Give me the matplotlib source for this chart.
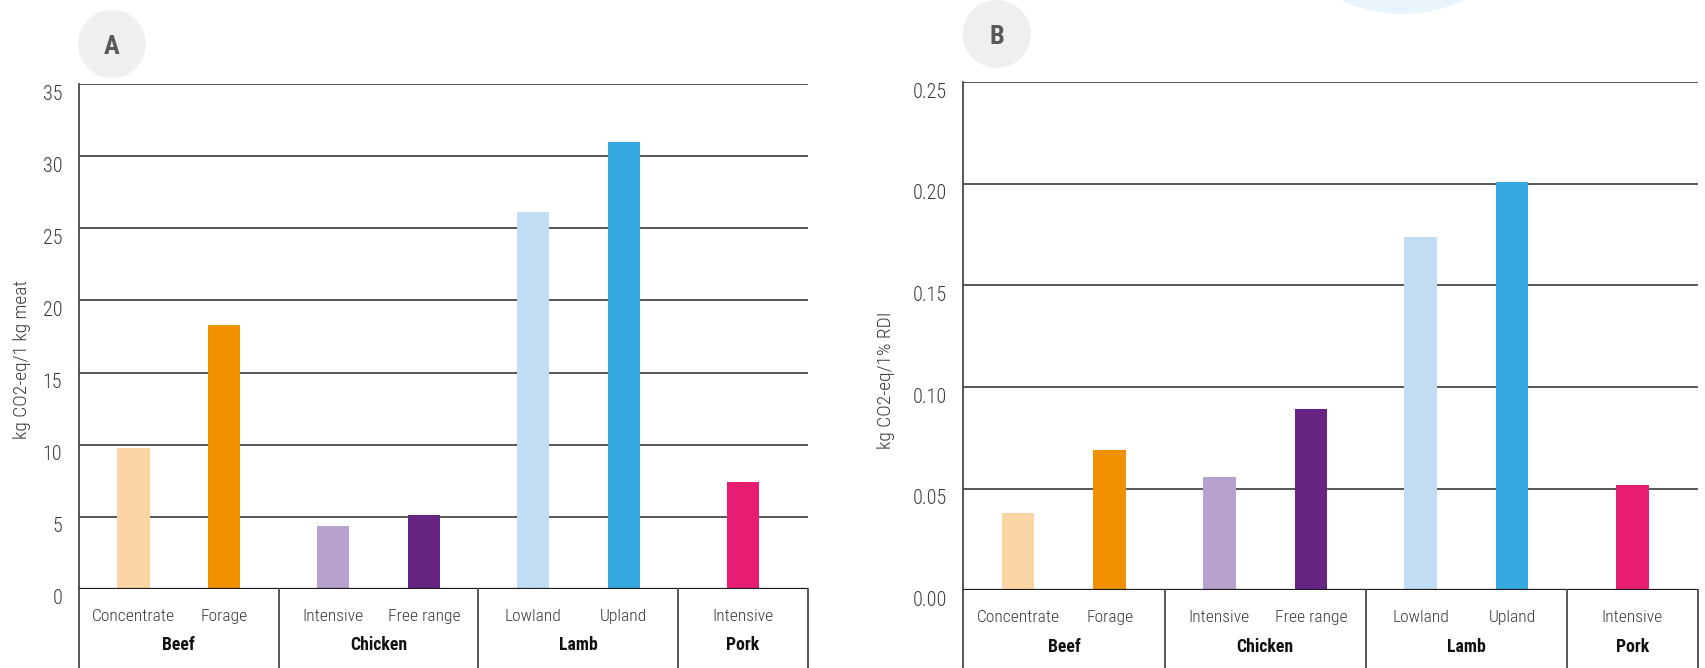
import matplotlib
matplotlib.use("Agg")
import matplotlib.pyplot as plt
from matplotlib import font_manager
from matplotlib.patches import Circle
from matplotlib.transforms import ScaledTranslation, blended_transform_factory

# ---------------- data ----------------
groups = ["Beef", "Chicken", "Lamb", "Pork"]
subcats = [["Concentrate", "Forage"], ["Intensive", "Free range"],
           ["Lowland", "Upland"], ["Intensive"]]
colors = ["#fcd5a5", "#f09100", "#b7a1cd", "#662483", "#c1ddf3", "#36a9e1", "#e61d71"]

values_a = [9.8, 18.3, 4.4, 5.1, 26.1, 31.0, 7.4]          # kg CO2-eq / 1 kg meat
values_b = [0.038, 0.069, 0.056, 0.089, 0.174, 0.201, 0.052]  # kg CO2-eq / 1% RDI

yticks_a = [0, 5, 10, 15, 20, 25, 30, 35]
yticklabels_a = ["0", "5", "10", "15", "20", "25", "30", "35"]
yticks_b = [0.0, 0.05, 0.10, 0.15, 0.20, 0.25]
yticklabels_b = ["0.00", "0.05", "0.10", "0.15", "0.20", "0.25"]

ylabel_a = "kg CO2-eq/1 kg meat"
ylabel_b = "kg CO2-eq/1% RDI"

# ---------------- fonts ----------------
names = {f.name for f in font_manager.fontManager.ttflist}
cond = None
for cand in ["Roboto Condensed", "Liberation Sans Narrow", "Roboto"]:
    if cand in names:
        cond = cand
        break
light_w = "light" if cond in ("Roboto Condensed", "Roboto") else "normal"
plt.rcParams["font.family"] = [cond, "DejaVu Sans"]

# ---------------- layout helpers ----------------
GROUP_W = {2: 2.2, 1: 1.43}
BAR_W = 0.355

xpos, bounds = [], [0.0]
start = 0.0
for sc in subcats:
    gw = GROUP_W[len(sc)]
    off = (gw - (len(sc) - 1)) / 2
    for i in range(len(sc)):
        xpos.append(start + off + i)
    start += gw
    bounds.append(start)
total = start

fig = plt.figure(figsize=(17.05, 6.68), dpi=100)

# decorative circles
fig.add_artist(Circle((14.02, 7.96), 1.42, transform=fig.dpi_scale_trans,
                      facecolor="#eaf4fc", edgecolor="none", zorder=0))
fig.add_artist(Circle((1.12, 6.24), 0.34, transform=fig.dpi_scale_trans,
                      facecolor="#efefef", edgecolor="none"))
fig.add_artist(Circle((9.967, 6.34), 0.34, transform=fig.dpi_scale_trans,
                      facecolor="#efefef", edgecolor="none"))
fig.text(1.12 / 17.05, 6.21 / 6.68, "A", ha="center", va="center",
         fontsize=19, fontweight="bold", color="#595959")
fig.text(9.967 / 17.05, 6.31 / 6.68, "B", ha="center", va="center",
         fontsize=19, fontweight="bold", color="#595959")

ax_a = fig.add_axes([79 / 1705, 79 / 668, 729 / 1705, 505 / 668])
ax_b = fig.add_axes([963.3 / 1705, 77.7 / 668, 734.4 / 1705, 508 / 668])


def draw(ax, vals, yt, ytl, ymax):
    ax.set_xlim(0, total)
    ax.set_ylim(0, ymax)
    ax.bar(xpos, vals, width=BAR_W, color=colors, zorder=3)
    for y in yt[1:]:
        ax.axhline(y, color="#4a4a4a", lw=1.3, zorder=2)
    ax.axhline(0, color="#1a1a1a", lw=1.6, zorder=4)
    for s in ["top", "right", "bottom"]:
        ax.spines[s].set_visible(False)
    ax.spines["left"].set_color("#4a4a4a")
    ax.spines["left"].set_linewidth(1.3)
    ax.set_yticks(yt)
    ax.set_yticklabels(ytl, fontsize=14.5, color="#3a3a3a", fontweight=light_w)
    ax.tick_params(axis="y", length=0, pad=12)
    off = ScaledTranslation(0, -8 / 100, fig.dpi_scale_trans)
    for lab in ax.get_yticklabels():
        lab.set_transform(lab.get_transform() + off)
    ax.set_xticks([])
    tr = blended_transform_factory(ax.transData, ax.transAxes)
    for b in bounds:
        ax.plot([b, b], [0, -0.25], transform=tr, color="#4a4a4a", lw=1.3,
                clip_on=False, zorder=4)
    k = 0
    for gi, sc in enumerate(subcats):
        for name in sc:
            ax.text(xpos[k], -0.054, name, transform=tr, ha="center", va="center",
                    fontsize=12.6, color="#3a3a3a", fontweight=light_w)
            k += 1
        ax.text((bounds[gi] + bounds[gi + 1]) / 2, -0.111, groups[gi], transform=tr,
                ha="center", va="center", fontsize=12.8, fontweight="bold", color="#111111")


draw(ax_a, values_a, yticks_a, yticklabels_a, 35)
draw(ax_b, values_b, yticks_b, yticklabels_b, 0.25)

fig.text(22 / 1705, 1 - 359 / 668, ylabel_a, rotation=90, ha="center", va="center",
         fontsize=14, color="#3a3a3a", fontweight=light_w)
fig.text(886 / 1705, 1 - 380 / 668, ylabel_b, rotation=90, ha="center", va="center",
         fontsize=14, color="#3a3a3a", fontweight=light_w)

fig.savefig("out.png", dpi=100)
